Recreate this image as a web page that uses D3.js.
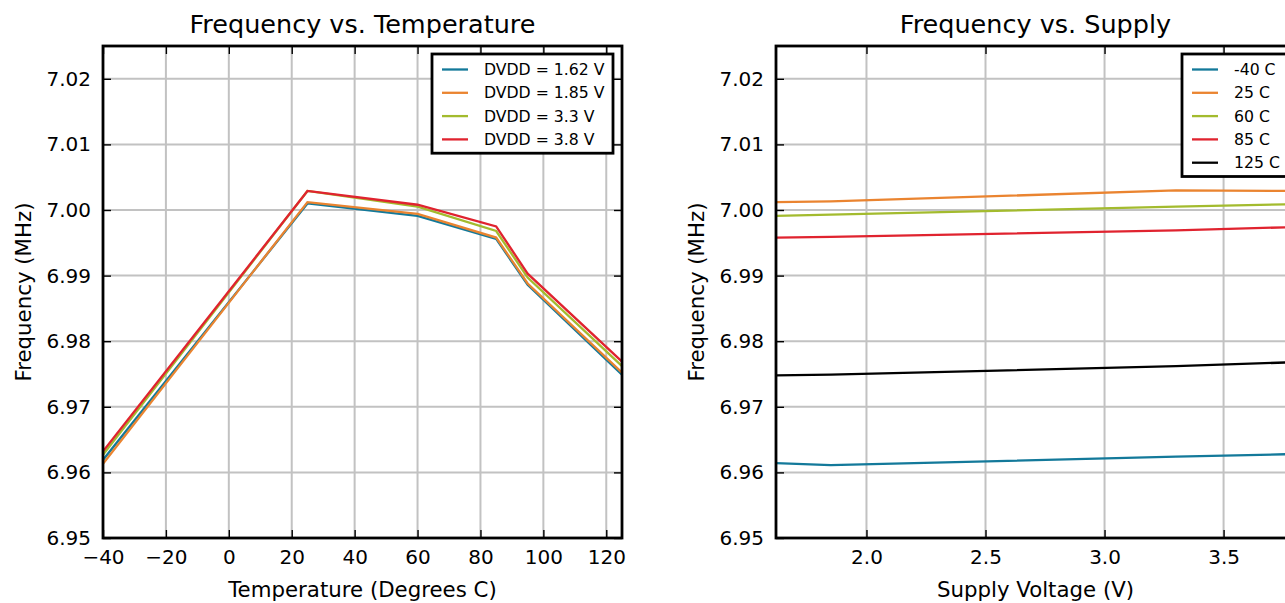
<!DOCTYPE html>
<html>
<head>
<meta charset="utf-8">
<script src="https://cdn.jsdelivr.net/npm/d3@7"></script>
<style>
  body { margin: 0; background: #fff; }
  svg text { font-family: "DejaVu Sans", sans-serif; fill: #000; }
  .grid line { stroke: #c2c2c2; stroke-width: 2; }
</style>
</head>
<body>
<div id="chart"></div>
<script>

// left panel: frequency vs temperature
var temps = [-40, 25, 60, 85, 95, 125];
var dvddNames = ['DVDD = 1.62 V', 'DVDD = 1.85 V', 'DVDD = 3.3 V', 'DVDD = 3.8 V'];
var freqTemp162 = [6.9619, 7.0010, 6.9991, 6.9956, 6.9886, 6.9749];
var freqTemp185 = [6.9613, 7.0012, 6.9994, 6.9958, 6.9888, 6.9752];
var freqTemp33  = [6.9627, 7.0029, 7.0005, 6.9968, 6.9897, 6.9762];
var freqTemp38  = [6.9632, 7.0029, 7.0008, 6.9975, 6.9903, 6.9769];

// right panel: frequency vs supply
var supplies = [1.62, 1.85, 3.3, 3.8];
var tempNames = ['-40 C', '25 C', '60 C', '85 C', '125 C'];
var freqSupM40 = [6.9614, 6.9611, 6.9624, 6.9628];
var freqSup25  = [7.0012, 7.0013, 7.0030, 7.0029];
var freqSup60  = [6.9991, 6.9993, 7.0005, 7.0009];
var freqSup85  = [6.9958, 6.9959, 6.9969, 6.9974];
var freqSup125 = [6.9748, 6.9749, 6.9762, 6.9768];

var yTicks = [6.95, 6.96, 6.97, 6.98, 6.99, 7.00, 7.01, 7.02];
var tempTicks = [-40, -20, 0, 20, 40, 60, 80, 100, 120];
var supplyTicks = [2.0, 2.5, 3.0, 3.5];

var colors = ['#13799a', '#ea8430', '#a3bb2e', '#e0232f', '#000000'];

var svg = d3.select('#chart').append('svg')
    .attr('width', 1285)
    .attr('height', 603);

function drawPanel(opts) {
    var x0 = opts.left, y0 = 46, w = 519, h = 492;

    var x = d3.scaleLinear().domain(opts.xDomain).range([0, w]);
    var y = d3.scaleLinear().domain([6.95, 7.025]).range([h, 0]);

    var g = svg.append('g').attr('transform', `translate(${x0},${y0})`);

    var clipId = 'clip' + x0;
    g.append('clipPath').attr('id', clipId)
        .append('rect').attr('width', w).attr('height', h);

    // grid
    g.append('g').attr('class', 'grid')
        .selectAll('line').data(opts.xTicks).enter().append('line')
        .attr('x1', d => x(d)).attr('x2', d => x(d))
        .attr('y1', 0).attr('y2', h);
    g.append('g').attr('class', 'grid')
        .selectAll('line').data(yTicks).enter().append('line')
        .attr('x1', 0).attr('x2', w)
        .attr('y1', d => y(d)).attr('y2', d => y(d));

    // series
    var line = d3.line()
        .x((d, i) => x(opts.xs[i]))
        .y(d => y(d));

    g.append('g').attr('clip-path', `url(#${clipId})`)
        .selectAll('path').data(opts.series).enter().append('path')
        .attr('d', d => line(d))
        .attr('fill', 'none')
        .attr('stroke', (d, i) => colors[i])
        .attr('stroke-width', 2.3)
        .attr('stroke-linejoin', 'miter');

    // axes with inward ticks on all sides
    var bottom = g.append('g').attr('transform', `translate(0,${h})`)
        .call(d3.axisBottom(x).tickValues(opts.xTicks).tickSizeInner(-8).tickSizeOuter(0).tickPadding(12).tickFormat(opts.fmtX));
    var top = g.append('g')
        .call(d3.axisTop(x).tickValues(opts.xTicks).tickSizeInner(-8).tickSizeOuter(0).tickFormat(''));
    var left = g.append('g')
        .call(d3.axisLeft(y).tickValues(yTicks).tickSizeInner(-8).tickSizeOuter(0).tickPadding(12).tickFormat(d3.format('.2f')));
    var right = g.append('g').attr('transform', `translate(${w},0)`)
        .call(d3.axisRight(y).tickValues(yTicks).tickSizeInner(-8).tickSizeOuter(0).tickFormat(''));

    [bottom, top, left, right].forEach(function (a) {
        a.select('.domain').remove();
        a.selectAll('.tick line').attr('stroke', '#000').attr('stroke-width', 1.4);
        a.selectAll('.tick text').style('font-size', '20px');
    });

    // frame
    g.append('rect')
        .attr('width', w).attr('height', h)
        .attr('fill', 'none').attr('stroke', '#000').attr('stroke-width', 2.8);

    // titles and labels
    g.append('text')
        .attr('x', w / 2).attr('y', -13)
        .attr('text-anchor', 'middle')
        .style('font-size', '25.5px')
        .text(opts.title);

    g.append('text')
        .attr('x', w / 2).attr('y', h + 59)
        .attr('text-anchor', 'middle')
        .style('font-size', '21.3px')
        .text(opts.xLabel);

    g.append('text')
        .attr('transform', `translate(${-72},${h / 2}) rotate(-90)`)
        .attr('text-anchor', 'middle')
        .style('font-size', '21.3px')
        .text('Frequency (MHz)');

    // legend
    var lg = g.append('g').attr('transform', `translate(${opts.legendX},8)`);
    lg.append('rect')
        .attr('width', opts.legendW).attr('height', opts.names.length * 23.3 + 6)
        .attr('fill', '#fff').attr('stroke', '#000').attr('stroke-width', 2.8);
    var item = lg.selectAll('g.item').data(opts.names).enter().append('g')
        .attr('class', 'item')
        .attr('transform', (d, i) => `translate(0,${15.5 + i * 23.3})`);
    item.append('line')
        .attr('x1', 10).attr('x2', 36)
        .attr('stroke', (d, i) => colors[i])
        .attr('stroke-width', 2.3);
    item.append('text')
        .attr('x', 52).attr('y', 5.5)
        .style('font-size', '15.7px')
        .text(d => d);
}

drawPanel({
    left: 103,
    xDomain: [-40, 125],
    xTicks: tempTicks,
    xs: temps,
    series: [freqTemp162, freqTemp185, freqTemp33, freqTemp38],
    names: dvddNames,
    fmtX: d => d3.format('d')(d).replace('-', '\u2212'),
    title: 'Frequency vs. Temperature',
    xLabel: 'Temperature (Degrees C)',
    legendX: 329,
    legendW: 181
});

drawPanel({
    left: 776,
    xDomain: [1.62, 3.8],
    xTicks: supplyTicks,
    xs: supplies,
    series: [freqSupM40, freqSup25, freqSup60, freqSup85, freqSup125],
    names: tempNames,
    fmtX: d3.format('.1f'),
    title: 'Frequency vs. Supply',
    xLabel: 'Supply Voltage (V)',
    legendX: 406,
    legendW: 110
});

</script>
</body>
</html>
